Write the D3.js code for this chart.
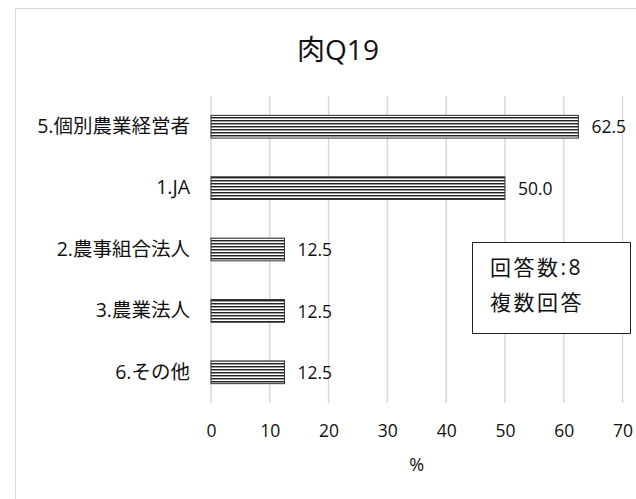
<!DOCTYPE html>
<html>
<head>
<meta charset="utf-8">
<script src="https://cdn.jsdelivr.net/npm/d3@7"></script>
<style>
  body { margin: 0; background: #fff; }
  svg text { font-family: "Open Sans", "Noto Sans CJK JP", sans-serif; fill: #111; }
</style>
</head>
<body>
<svg id="chart" width="636" height="499"></svg>
<script>
// Categories in display order (top to bottom) and their shares in %
const categories = ["5.個別農業経営者", "1.JA", "2.農事組合法人", "3.農業法人", "6.その他"];
const values = [62.5, 50.0, 12.5, 12.5, 12.5];
const xTicks = [0, 10, 20, 30, 40, 50, 60, 70];
const titleText = "肉Q19";
const axisTitle = "%";
const noteLines = ["回答数:8", "複数回答"];

const svg = d3.select("#chart");

// Outer chart frame
svg.append("rect")
  .attr("x", 15.5).attr("y", 8.5)
  .attr("width", 640).attr("height", 520)
  .attr("fill", "#fff").attr("stroke", "#d9d9d9").attr("stroke-width", 1);

// Horizontal stripe fill for the bars
const defs = svg.append("defs");
const pat = defs.append("pattern")
  .attr("id", "stripes").attr("patternUnits", "userSpaceOnUse")
  .attr("width", 8).attr("height", 3);
pat.append("rect").attr("width", 8).attr("height", 3).attr("fill", "#fff");
pat.append("rect").attr("y", 0).attr("width", 8).attr("height", 1).attr("fill", "#222");
pat.append("rect").attr("y", 1).attr("width", 8).attr("height", 1).attr("fill", "#9a9a9a");

const x = d3.scaleLinear().domain([0, 70]).range([211, 622.5]);
const y = d3.scaleBand().domain(categories).range([96, 403]).paddingInner(0.63).paddingOuter(0.315);

// Title
svg.append("text")
  .attr("x", 338).attr("y", 60)
  .attr("text-anchor", "middle")
  .style("font-size", "28px")
  .text(titleText);

// Vertical gridlines
svg.append("g")
  .selectAll("line")
  .data(xTicks)
  .join("line")
  .attr("x1", d => x(d)).attr("x2", d => x(d))
  .attr("y1", 96).attr("y2", 403)
  .attr("stroke", "#d9d9d9").attr("stroke-width", 1.5);

// X axis tick labels
const xAxis = d3.axisBottom(x).tickValues(xTicks).tickSize(0).tickPadding(0);
const gx = svg.append("g").call(xAxis);
gx.attr("font-family", null).attr("font-size", null);
gx.select(".domain").remove();
gx.selectAll("text")
  .attr("y", 436.5).attr("dy", null)
  .style("font-size", "17.5px")
  .style("fill", "#111");

// Axis title
svg.append("text")
  .attr("x", x(35)).attr("y", 471)
  .attr("text-anchor", "middle")
  .style("font-size", "18px")
  .text(axisTitle);

// Category labels
const yAxis = d3.axisLeft(y).tickSize(0).tickPadding(0);
const gy = svg.append("g").attr("transform", "translate(190,0)").call(yAxis);
gy.attr("font-family", null).attr("font-size", null);
gy.select(".domain").remove();
gy.selectAll("text")
  .style("font-size", "19.5px")
  .style("fill", "#111");

// Bars
svg.append("g")
  .selectAll("rect")
  .data(categories)
  .join("rect")
  .attr("x", x(0))
  .attr("y", d => y(d))
  .attr("width", (d, i) => x(values[i]) - x(0))
  .attr("height", y.bandwidth())
  .attr("fill", "url(#stripes)")
  .attr("stroke", "#333").attr("stroke-width", 1);

// Value labels
svg.append("g")
  .selectAll("text")
  .data(categories)
  .join("text")
  .attr("x", (d, i) => x(values[i]) + 13)
  .attr("y", d => y(d) + y.bandwidth() / 2)
  .attr("dy", "0.38em")
  .style("font-size", "17.5px")
  .text((d, i) => values[i].toFixed(1));

// Note box
svg.append("rect")
  .attr("x", 472.5).attr("y", 242.5)
  .attr("width", 158).attr("height", 91)
  .attr("fill", "#fff").attr("stroke", "#222").attr("stroke-width", 1);
svg.append("g")
  .selectAll("text")
  .data(noteLines)
  .join("text")
  .attr("x", 490)
  .attr("y", (d, i) => 275 + i * 35)
  .style("font-size", "21px")
  .style("letter-spacing", "2.5px")
  .text(d => d);
</script>
</body>
</html>
